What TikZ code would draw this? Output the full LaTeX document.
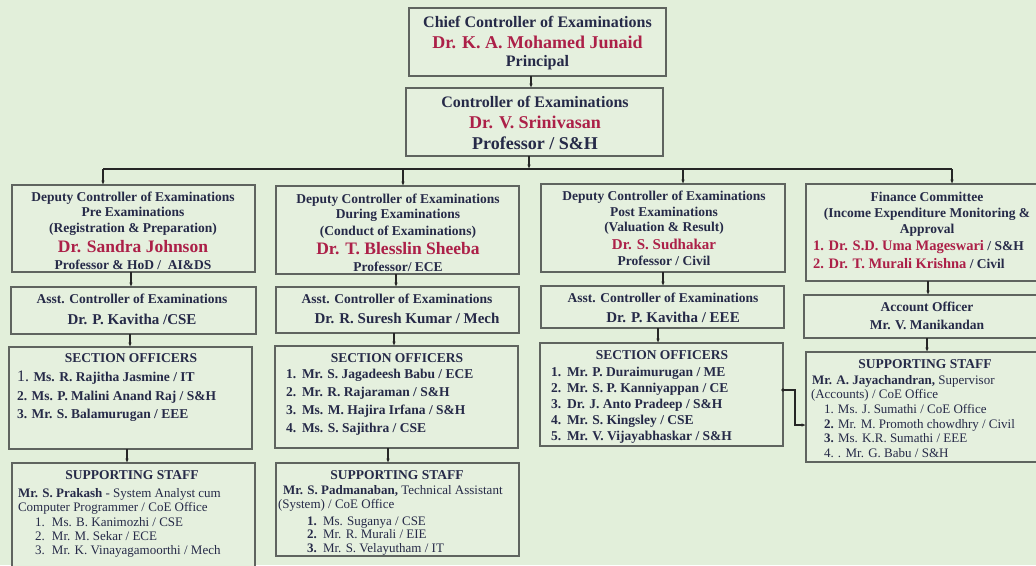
\documentclass[tikz,border=0pt]{standalone}
\usepackage{fontspec}
\setmainfont{Liberation Serif}
\usetikzlibrary{arrows.meta,calc}
\definecolor{bg}{RGB}{226,239,218}
\definecolor{boxfill}{RGB}{229,240,222}
\definecolor{bord}{RGB}{95,100,95}
\definecolor{navy}{RGB}{38,42,72}
\definecolor{crim}{RGB}{172,32,72}
\newcommand\mkbox[5]{\node[box, minimum width={(#4)-(#2)}, minimum height={(#5)-(#3)}] (#1) at (#2,#3) {};}
\begin{document}
\begin{tikzpicture}[x=1pt,y=-1pt,
  box/.style={draw=bord, line width=1.1pt, fill=boxfill, inner sep=0pt, outer sep=0pt, anchor=north west, rectangle},
  conn/.style={draw=black!85, line width=1.1pt},
  arr/.style={conn, -{Latex[length=4.5pt,width=3.6pt]}},
  tx/.style={inner sep=0pt, outer sep=0pt, text=navy, anchor=base},
  txl/.style={tx, anchor=base west},
  hA/.style={font=\bfseries\fontsize{16}{19}\selectfont},
  hB/.style={font=\bfseries\fontsize{18}{21}\selectfont},
  nA/.style={font=\bfseries\fontsize{18}{21}\selectfont, text=crim},
  hC/.style={font=\bfseries\fontsize{13.5}{16}\selectfont},
  nB/.style={font=\bfseries\fontsize{17.5}{20}\selectfont, text=crim},
  nC/.style={font=\bfseries\fontsize{15}{18}\selectfont, text=crim},
  hD/.style={font=\bfseries\fontsize{15}{18}\selectfont},
  rg/.style={font=\fontsize{13}{15}\selectfont},
]
\useasboundingbox (0,0) rectangle (1036,565);
\fill[bg] (0,0) rectangle (1036,565);
\clip (0,0) rectangle (1036,565);

% ---------- top ----------
\mkbox{chief}{409}{8}{666}{76}
\node[tx,hA] (chief1) at (537.5,27.5) {Chief Controller of Examinations};
\node[tx,nA] (chief2) at (537.5,48) {Dr. K. A. Mohamed Junaid};
\node[tx,hA] (chief3) at (537.5,66.5) {Principal};

\mkbox{ctrl}{406}{88}{663}{156}
\node[tx,hA] (ctrl1) at (535,107.5) {Controller of Examinations};
\node[tx,nA] (ctrl2) at (535,128) {Dr. V. Srinivasan};
\node[tx,hB] (ctrl3) at (535,149) {Professor / S\&H};

\coordinate (xa) at (531,0);
\draw[arr] (chief.south -| xa) -- (ctrl.north -| xa);

% ---------- deputies ----------
\mkbox{dep1}{12}{185}{255}{272}
\node[tx,hC] (dep1a) at (133,201.5) {Deputy Controller of Examinations};
\node[tx,hC] (dep1b) at (133,216.5) {Pre Examinations};
\node[tx,hC] (dep1c) at (133,232.5) {(Registration \& Preparation)};
\node[tx,nB] (dep1d) at (133,252.8) {Dr. Sandra Johnson};
\node[tx,hC] (dep1e) at (133,269.5) {Professor \& HoD /\ \ AI\&DS};

\mkbox{dep2}{276}{186}{519}{274}
\node[tx,hC] (dep2a) at (398,203.5) {Deputy Controller of Examinations};
\node[tx,hC] (dep2b) at (398,218.5) {During Examinations};
\node[tx,hC] (dep2c) at (398,235.5) {(Conduct of Examinations)};
\node[tx,nB] (dep2d) at (398,254.8) {Dr. T. Blesslin Sheeba};
\node[tx,hC] (dep2e) at (398,271) {Professor/ ECE};

\mkbox{dep3}{541}{184}{785}{272}
\node[tx,hC] (dep3a) at (664,200.5) {Deputy Controller of Examinations};
\node[tx,hC] (dep3b) at (664,216.5) {Post Examinations};
\node[tx,hC] (dep3c) at (664,231.5) {(Valuation \& Result)};
\node[tx,nC] (dep3d) at (664,249) {Dr. S. Sudhakar};
\node[tx,hC] (dep3e) at (664,265.5) {Professor / Civil};

\mkbox{fin}{806}{184}{1045}{281}
\node[tx,hC] (fin1) at (927,201.5) {Finance Committee};
\node[tx,hC] (fin2) at (927,217.5) {(Income Expenditure Monitoring \&};
\node[tx,hC] (fin3) at (927,233.5) {Approval};
\node[txl,hC] (fin4) at (813,250) {{\fontsize{14.5}{17}\selectfont\color{crim}1. Dr. S.D. Uma Mageswari} / S\&H};
\node[txl,hC] (fin5) at (813,268) {{\fontsize{14.5}{17}\selectfont\color{crim}2. Dr. T. Murali Krishna} / Civil};

% bus
\coordinate (bA) at (529,169);
\coordinate (bL) at (103,169);
\coordinate (bM) at (403,169);
\coordinate (bN) at (683,169);
\coordinate (bR) at (952,169);
\draw[arr] (ctrl.south -| bA) -- (bA);
\draw[conn] (bL) -- (bR);
\draw[arr] (bL) -- (bL |- dep1.north);
\draw[arr] (bM) -- (bM |- dep2.north);
\draw[arr] (bN) -- (bN |- dep3.north);
\draw[arr] (bR) -- (bR |- fin.north);

% ---------- assistants ----------
\mkbox{asst1}{11}{287}{256}{334}
\node[tx,hC] (asst1a) at (132,303.5) {Asst. Controller of Examinations};
\node[tx,hD] (asst1b) at (132,324) {Dr. P. Kavitha /CSE};

\mkbox{asst2}{276}{287}{519}{333}
\node[tx,hC] (asst2a) at (397,303.5) {Asst. Controller of Examinations};
\node[tx,hD] (asst2b) at (407,323) {Dr. R. Suresh Kumar / Mech};

\mkbox{asst3}{541}{286}{784}{328}
\node[tx,hC] (asst3a) at (663,302.5) {Asst. Controller of Examinations};
\node[tx,hD] (asst3b) at (673,322) {Dr. P. Kavitha / EEE};

\mkbox{acct}{804}{295}{1045}{338}
\node[tx,hC] (acct1) at (927,311.5) {Account Officer};
\node[tx,hC] (acct2) at (927,329.5) {Mr. V. Manikandan};

\coordinate (c1) at (131,0);
\coordinate (c2) at (396,0);
\coordinate (c3) at (663,0);
\coordinate (c4) at (928,0);
\draw[arr] (dep1.south -| c1) -- (asst1.north -| c1);
\draw[arr] (dep2.south -| c2) -- (asst2.north -| c2);
\draw[arr] (dep3.south -| c3) -- (asst3.north -| c3);
\draw[arr] (fin.south -| c4) -- (acct.north -| c4);

% ---------- section officers ----------
\mkbox{sec1}{9}{347}{252}{449}
\node[tx,hC] (sec1h) at (131,362.5) {SECTION OFFICERS};
\node[txl,hC] (sec1a) at (17,381.5) {{\mdseries\fontsize{16}{18}\selectfont 1.} Ms. R. Rajitha Jasmine / IT};
\node[txl,hC] (sec1b) at (17,400) {2. Ms. P. Malini Anand Raj / S\&H};
\node[txl,hC] (sec1c) at (17,418.5) {3. Mr. S. Balamurugan / EEE};

\mkbox{sec2}{275}{346}{518}{448}
\node[tx,hC] (sec2h) at (397,362.5) {SECTION OFFICERS};
\node[txl,hC] (sec2a) at (286,378.5) {\makebox[16pt][l]{1.}Mr. S. Jagadeesh Babu / ECE};
\node[txl,hC] (sec2b) at (286,396.5) {\makebox[16pt][l]{2.}Mr. R. Rajaraman / S\&H};
\node[txl,hC] (sec2c) at (286,414.5) {\makebox[16pt][l]{3.}Ms. M. Hajira Irfana / S\&H};
\node[txl,hC] (sec2d) at (286,432.5) {\makebox[16pt][l]{4.}Ms. S. Sajithra / CSE};

\mkbox{sec3}{540}{343}{783}{446}
\node[tx,hC] (sec3h) at (662,359.5) {SECTION OFFICERS};
\node[txl,hC] (sec3a) at (551,376.5) {\makebox[16pt][l]{1.}Mr. P. Duraimurugan / ME};
\node[txl,hC] (sec3b) at (551,392.5) {\makebox[16pt][l]{2.}Mr. S. P. Kanniyappan / CE};
\node[txl,hC] (sec3c) at (551,408.5) {\makebox[16pt][l]{3.}Dr. J. Anto Pradeep / S\&H};
\node[txl,hC] (sec3d) at (551,424) {\makebox[16pt][l]{4.}Mr. S. Kingsley / CSE};
\node[txl,hC] (sec3e) at (551,440) {\makebox[16pt][l]{5.}Mr. V. Vijayabhaskar / S\&H};

\coordinate (s1) at (130,0);
\coordinate (s2) at (394,0);
\coordinate (s3) at (658,0);
\coordinate (s4) at (927,0);
\draw[arr] (asst1.south -| s1) -- (sec1.north -| s1);
\draw[arr] (asst2.south -| s2) -- (sec2.north -| s2);
\draw[arr] (asst3.south -| s3) -- (sec3.north -| s3);

% ---------- supporting staff ----------
\mkbox{sup4}{806}{352}{1045}{462}
\node[tx,hC] (sup4h) at (925,368.5) {SUPPORTING STAFF};
\node[txl,rg] (sup4a) at (812,384.5) {{\bfseries Mr. A. Jayachandran,} Supervisor};
\node[txl,rg] (sup4b) at (811,398.5) {(Accounts) / CoE Office};
\node[txl,rg] (sup4c) at (824,413) {\makebox[14pt][l]{1.}Ms. J. Sumathi / CoE Office};
\node[txl,rg] (sup4d) at (824,428) {\makebox[14pt][l]{\bfseries 2.}Mr. M. Promoth chowdhry / Civil};
\node[txl,rg] (sup4e) at (824,442.5) {\makebox[14pt][l]{\bfseries 3.}Ms. K.R. Sumathi / EEE};
\node[txl,rg] (sup4f) at (824,457) {\makebox[14pt][l]{4.}. Mr. G. Babu / S\&H};
\draw[arr] (acct.south -| s4) -- (sup4.north -| s4);

\mkbox{sup1}{12}{463}{255}{580}
\node[tx,hC] (sup1h) at (132,479.5) {SUPPORTING STAFF};
\node[txl,rg] (sup1a) at (18,497.5) {{\bfseries Mr. S. Prakash} - System Analyst cum};
\node[txl,rg] (sup1b) at (18,511.5) {Computer Programmer / CoE Office};
\node[txl,rg] (sup1c) at (35,526.5) {\makebox[17pt][l]{1.}Ms. B. Kanimozhi / CSE};
\node[txl,rg] (sup1d) at (35,540.5) {\makebox[17pt][l]{2.}Mr. M. Sekar / ECE};
\node[txl,rg] (sup1e) at (35,554) {\makebox[17pt][l]{3.}Mr. K. Vinayagamoorthi / Mech};

\mkbox{sup2}{276}{463}{519}{556}
\node[tx,hC] (sup2h) at (397,479.5) {SUPPORTING STAFF};
\node[txl,rg] (sup2a) at (283,494.5) {{\bfseries Mr. S. Padmanaban,} Technical Assistant};
\node[txl,rg] (sup2b) at (278,508.5) {(System) / CoE Office};
\node[txl,rg] (sup2c) at (307,525) {\makebox[16pt][l]{\bfseries 1.}Ms. Suganya / CSE};
\node[txl,rg] (sup2d) at (307,538.5) {\makebox[16pt][l]{\bfseries 2.}Mr. R. Murali / EIE};
\node[txl,rg] (sup2e) at (307,552) {\makebox[16pt][l]{\bfseries 3.}Mr. S. Velayutham / IT};

\coordinate (u1) at (127,0);
\coordinate (u2) at (388,0);
\draw[arr] (sec1.south -| u1) -- (sup1.north -| u1);
\draw[arr] (sec2.south -| u2) -- (sup2.north -| u2);

\coordinate (k1) at (795,390);
\coordinate (k2) at (795,425);
\fill[black!85] (sec3.east |- k1) circle (1.8pt);
\draw[arr] (sec3.east |- k1) -- (k1) -- (k2) -- (k2 -| sup4.west);
\end{tikzpicture}
\end{document}
